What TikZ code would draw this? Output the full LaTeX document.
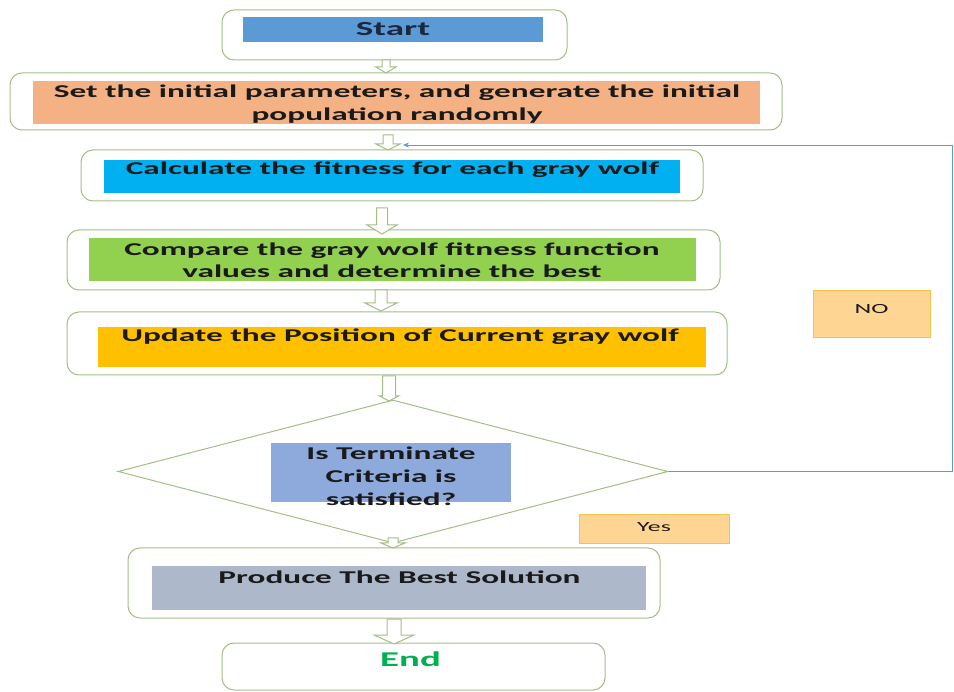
\documentclass[tikz,border=0pt]{standalone}
\usepackage{fontspec}
\setmainfont{Carlito}[FakeStretch=1.85]
\usetikzlibrary{shapes.geometric,arrows.meta}

\definecolor{frameline}{HTML}{A4BD86}
\definecolor{startblue}{HTML}{5B9BD5}
\definecolor{salmon}{HTML}{F4B183}
\definecolor{skyblue}{HTML}{00B0F0}
\definecolor{leafgreen}{HTML}{92D050}
\definecolor{amber}{HTML}{FFC000}
\definecolor{slateblue}{HTML}{8EA9DB}
\definecolor{bluegray}{HTML}{ADB9CA}
\definecolor{tagfill}{HTML}{FFD593}
\definecolor{tagline}{HTML}{F2C44E}
\definecolor{loopblue}{HTML}{5B9BD5}
\definecolor{endgreen}{HTML}{00B050}
\definecolor{ink}{HTML}{1A1A1A}
\definecolor{startink}{HTML}{1C2740}

% hollow block arrow pointing down: x, y top, y bottom, shaft half width, head half width, head length
\newcommand\downblock[6]{%
  \draw[blockline] ({#1-#4},#2) -- ({#1+#4},#2) -- ({#1+#4},{#3-#6}) -- ({#1+#5},{#3-#6})
    -- (#1,#3) -- ({#1-#5},{#3-#6}) -- ({#1-#4},{#3-#6}) -- cycle;}

\begin{document}
\begin{tikzpicture}[x=1pt,y=-1pt,
  frame/.style={draw=frameline,line width=1pt,rounded corners=12pt,inner sep=0pt},
  band/.style={inner sep=0pt,outer sep=0pt},
  label/.style={inner sep=0pt,text=ink,align=center,font=\bfseries\fontsize{18}{22.5}\selectfont},
  tag/.style={draw=tagline,fill=tagfill,line width=0.8pt,inner sep=0pt},
  tagtext/.style={inner sep=0pt,text=ink,font=\fontsize{14}{16}\selectfont},
  blockline/.style={draw=frameline,fill=white,line width=1pt,line join=miter},
  loop/.style={draw=loopblue,line width=0.9pt}]
\useasboundingbox (0,0) rectangle (954,692);

% outer rounded frames
\node[frame,minimum width=345,minimum height=50] (startbox) at (394.5,35) {};
\node[frame,minimum width=772,minimum height=57] (initbox) at (396,101.5) {};
\node[frame,minimum width=622,minimum height=51] (calcbox) at (392,175.5) {};
\node[frame,minimum width=653,minimum height=60] (compbox) at (393.5,260) {};
\node[frame,minimum width=660,minimum height=63] (updbox) at (397,343.5) {};
\node[draw=frameline,line width=1pt,shape=diamond,inner sep=0pt,
      minimum width=550,minimum height=143] (decide) at (393,471.5) {};
\node[frame,minimum width=532,minimum height=70] (prodbox) at (394,583) {};
\node[frame,minimum width=383,minimum height=47] (endbox) at (413.5,666.5) {};

% coloured bands inside the frames
\node[band,fill=startblue,minimum width=300,minimum height=25] (startfill) at (393,29.5) {};
\node[band,fill=salmon,minimum width=727,minimum height=43] (initfill) at (396.5,102.5) {};
\node[band,fill=skyblue,minimum width=576,minimum height=33] (calcfill) at (392,176.5) {};
\node[band,fill=leafgreen,minimum width=607,minimum height=43] (compfill) at (392.5,259.5) {};
\node[band,fill=amber,minimum width=608,minimum height=40] (updfill) at (402,347) {};
\node[band,fill=slateblue,minimum width=240,minimum height=59] (decfill) at (391,472.5) {};
\node[band,fill=bluegray,minimum width=494,minimum height=44] (prodfill) at (399,588) {};

% step texts
\node[label,text=startink,font=\bfseries\fontsize{20}{24}\selectfont] (starttext) at (393,29) {Start};
\node[label] (inittext) at (397,104) {Set the initial parameters, and generate the initial\\population randomly};
\node[label] (calctext) at (392.5,170) {Calculate the fitness for each gray wolf};
\node[label] (comptext) at (392,260) {Compare the gray wolf fitness function\\values and determine the best};
\node[label] (updtext) at (400,337) {Update the Position of Current gray wolf};
\node[label,font=\bfseries\fontsize{18}{23}\selectfont] (dectext) at (391,476) {Is Terminate\\Criteria is\\satisfied?};
\node[label] (prodtext) at (399.5,577) {Produce The Best Solution};
\node[label,text=endgreen,font=\bfseries\fontsize{21}{24}\selectfont] (endtext) at (410.5,659) {End};

% branch tags
\node[tag,minimum width=117,minimum height=47] (notag) at (871.5,313.5) {};
\node[tagtext] (notext) at (871.5,309) {NO};
\node[tag,minimum width=150,minimum height=29] (yestag) at (654,528.5) {};
\node[tagtext] (yestext) at (654,527) {Yes};

% hollow flow arrows between the steps
\downblock{386}{60}{73}{4}{10}{6}
\downblock{388}{135}{150}{5}{12}{6}
\downblock{382}{208}{234}{5.5}{15}{9}
\downblock{381}{290}{311}{6}{16}{8}
\downblock{389}{376}{401}{6.5}{9.5}{5}
\downblock{393}{538}{548}{5}{12}{5}
\downblock{394}{619}{644}{7}{20}{9}

% feedback loop on NO
\coordinate (looptop) at (952,145);
\coordinate (loopend) at (403,145);
\draw[loop,-{Stealth[length=6pt,width=5pt]}] (decide.east) -- (decide.east -| looptop) -- (looptop) -- (loopend);
\end{tikzpicture}
\end{document}
